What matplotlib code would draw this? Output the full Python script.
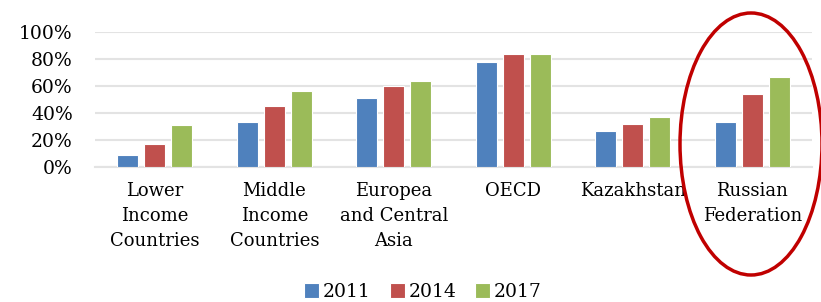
import numpy as np
import matplotlib.pyplot as plt
from matplotlib.patches import Ellipse

plt.rcParams['font.family'] = ['DejaVu Serif']

categories = ['Lower\nIncome\nCountries', 'Middle\nIncome\nCountries', 'Europea\nand Central\nAsia',
              'OECD', 'Kazakhstan', 'Russian\nFederation']
years = ['2011', '2014', '2017']
v2011 = [9, 33, 51, 78, 27, 33]
v2014 = [17, 45, 60, 84, 32, 54]
v2017 = [31, 56, 64, 84, 37, 67]
colors = ['#4F81BD', '#C0504D', '#9BBB59']

fig = plt.figure(figsize=(8.21, 3.02), dpi=100)
ax = fig.add_axes([95/821, 1-167/302, (812-95)/821, 135/302])

x = np.arange(len(categories))
w = 0.178
step = 0.226
for i, (vals, lab) in enumerate(zip([v2011, v2014, v2017], years)):
    ax.bar(x + (i-1)*step, vals, w, color=colors[i], edgecolor='white', linewidth=0.8,
           label=lab, zorder=3)

ax.set_xlim(-0.5, len(categories)-0.5)
ax.set_ylim(0, 100)
ax.set_yticks(range(0, 101, 20))
ax.set_yticklabels(['%d%%' % t for t in range(0, 101, 20)], fontsize=13.5)
ax.set_xticks(x)
ax.set_xticklabels(categories, fontsize=13, linespacing=1.5)
ax.tick_params(axis='y', length=0, pad=16)
ax.tick_params(axis='x', length=0, pad=11)
ax.grid(axis='y', color='#E3E3E3', linewidth=1.5, zorder=0)
for s in ['top', 'right', 'left']:
    ax.spines[s].set_visible(False)
ax.spines['bottom'].set_color('#E3E3E3')
ax.spines['bottom'].set_linewidth(1.5)

fig.legend(loc='center', bbox_to_anchor=(423/821, 1-292/302), ncol=3, frameon=False,
           fontsize=13.5, handlelength=0.8, handleheight=0.8, handletextpad=0.2,
           columnspacing=1.0)

# red ellipse around Russian Federation
ell = Ellipse((751/821, 1-144/302), 142/821, 262/302, transform=fig.transFigure,
              fill=False, edgecolor='#C00000', linewidth=2.5, angle=0)
fig.patches.append(ell)

fig.savefig('out.png', dpi=100)
